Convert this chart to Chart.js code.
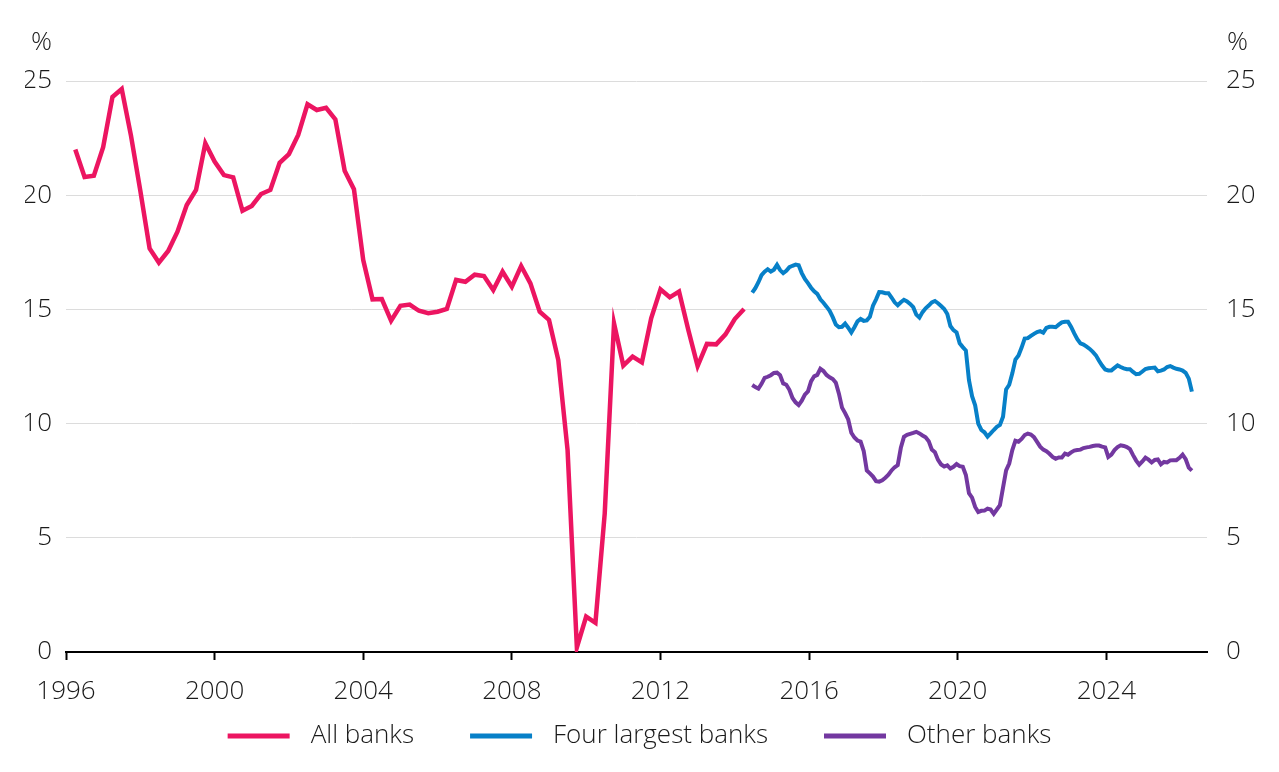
<!DOCTYPE html>
<html>
<head>
<meta charset="utf-8">
<script src="https://cdn.jsdelivr.net/npm/chart.js@4.4.1/dist/chart.umd.min.js"></script>
<style>
  html, body { margin: 0; padding: 0; background: #fff; }
  #wrap { width: 1279px; height: 772px; }
</style>
</head>
<body>
<div id="wrap"><canvas id="chart"></canvas></div>
<script>
const yTicks = [0, 5, 10, 15, 20, 25];
const xTicks = [1996, 2000, 2004, 2008, 2012, 2016, 2020, 2024];
const seriesNames = ['All banks', 'Four largest banks', 'Other banks'];
const seriesColors = ['#ec1561', '#0780c8', '#7338a0'];

// quarterly, first quarter ends March 1996
const allStart = 1996.25;
const allBanks = [
  22.0, 20.8, 20.85, 22.1, 24.3, 24.65, 22.6, 20.2, 17.67, 17.05,
  17.56, 18.4, 19.57, 20.23, 22.27, 21.47, 20.88, 20.78, 19.32, 19.53,
  20.05, 20.23, 21.42, 21.8, 22.64, 23.98, 23.73, 23.83, 23.32, 21.07,
  20.26, 17.16, 15.44, 15.45, 14.51, 15.16, 15.21, 14.94, 14.83, 14.9,
  15.02, 16.29, 16.21, 16.52, 16.46, 15.85, 16.65, 15.99, 16.9, 16.14,
  14.9, 14.54, 12.78, 8.84, 0.2, 1.55, 1.28, 6.07, 14.39, 12.54,
  12.93, 12.68, 14.61, 15.88, 15.53, 15.78, 14.1, 12.52, 13.49, 13.47,
  13.91, 14.58, 15.02
];

// monthly, from mid 2014
const monthStart = 2014.47;
const fourLargest = [
  15.73, 15.93, 16.19, 16.5, 16.65, 16.76, 16.66, 16.74, 16.95, 16.72,
  16.59, 16.69, 16.85, 16.91, 16.96, 16.93, 16.59, 16.33, 16.15, 15.95,
  15.79, 15.68, 15.44, 15.29, 15.12, 14.94, 14.66, 14.34, 14.22, 14.24,
  14.38, 14.2, 13.99, 14.22, 14.48, 14.58, 14.5, 14.52, 14.68, 15.16,
  15.44, 15.76, 15.75, 15.71, 15.71, 15.52, 15.31, 15.18, 15.31, 15.42,
  15.35, 15.24, 15.1, 14.77, 14.64, 14.88, 15.05, 15.17, 15.31, 15.37,
  15.27, 15.15, 15.02, 14.8, 14.27, 14.09, 13.99, 13.52, 13.35, 13.2,
  11.9, 11.2, 10.8, 10.0, 9.72, 9.62, 9.43, 9.57, 9.72, 9.86,
  9.94, 10.3, 11.5, 11.7, 12.2, 12.8, 12.98, 13.33, 13.72, 13.74,
  13.84, 13.93, 14.01, 14.05, 13.98, 14.19, 14.24, 14.24, 14.22, 14.33,
  14.43, 14.46, 14.46, 14.23, 13.95, 13.7, 13.51, 13.46, 13.37, 13.27,
  13.14, 12.99, 12.75, 12.54, 12.37, 12.33, 12.33, 12.44, 12.55, 12.48,
  12.42, 12.38, 12.38, 12.26, 12.16, 12.18, 12.28, 12.39, 12.42, 12.44,
  12.45, 12.29, 12.32, 12.37, 12.48, 12.52, 12.45, 12.4, 12.37, 12.32,
  12.22, 11.97, 11.4
];
const otherBanks = [
  11.69, 11.6, 11.53, 11.74, 12.0, 12.05, 12.12, 12.22, 12.23, 12.12,
  11.76, 11.7, 11.48, 11.12, 10.93, 10.81, 11.0, 11.27, 11.41, 11.85,
  12.07, 12.13, 12.4, 12.3, 12.13, 12.03, 11.95, 11.79, 11.31, 10.7,
  10.46, 10.18, 9.6, 9.39, 9.26, 9.21, 8.8, 7.95, 7.82, 7.68,
  7.48, 7.46, 7.52, 7.63, 7.76, 7.95, 8.09, 8.18, 8.94, 9.42,
  9.51, 9.55, 9.59, 9.64, 9.57, 9.48, 9.4, 9.23, 8.86, 8.75,
  8.41, 8.21, 8.12, 8.17, 8.03, 8.11, 8.23, 8.14, 8.11, 7.75,
  6.95, 6.76, 6.35, 6.13, 6.18, 6.19, 6.28, 6.24, 6.05, 6.24,
  6.43, 7.2, 7.95, 8.25, 8.84, 9.25, 9.21, 9.33, 9.5, 9.56,
  9.52, 9.41, 9.2, 8.99, 8.86, 8.79, 8.68, 8.54, 8.46, 8.52,
  8.52, 8.69, 8.64, 8.74, 8.82, 8.84, 8.86, 8.93, 8.96, 8.98,
  9.02, 9.04, 9.04, 8.99, 8.96, 8.54, 8.64, 8.84, 8.97, 9.05,
  9.02, 8.97, 8.88, 8.62, 8.38, 8.2, 8.34, 8.51, 8.42, 8.3,
  8.41, 8.43, 8.22, 8.32, 8.3, 8.39, 8.4, 8.4, 8.5, 8.64,
  8.44, 8.07, 7.94
];

const FONT = { family: "'Open Sans', 'Noto Sans', sans-serif", size: 26, weight: 300 };
const TEXT = '#1a1a1a';

function quarterly(start, values) {
  return values.map((v, i) => ({ x: start + i * 0.25, y: v }));
}
function monthly(start, values) {
  return values.map((v, i) => ({ x: start + i / 12, y: v }));
}

// "%" above both value axes
const percentLabels = {
  id: 'percentLabels',
  afterDraw(chart) {
    const ctx = chart.ctx;
    const top = chart.chartArea.top - 38;
    ctx.save();
    ctx.font = FONT.weight + ' ' + FONT.size + 'px ' + FONT.family;
    ctx.fillStyle = TEXT;
    ctx.textBaseline = 'middle';
    ctx.textAlign = 'right';
    ctx.fillText('%', chart.scales.y.right - 14, top);
    ctx.textAlign = 'left';
    ctx.fillText('%', chart.scales.y2.left + 20, top);
    ctx.restore();
  }
};

// legend with long line swatches, drawn under the axis
const lineLegend = {
  id: 'lineLegend',
  afterDraw(chart) {
    const ctx = chart.ctx;
    const lineLen = 62, gap = 21, spacing = 56;
    ctx.save();
    ctx.font = FONT.weight + ' ' + FONT.size + 'px ' + FONT.family;
    const widths = seriesNames.map(n => ctx.measureText(n).width);
    let total = spacing * (seriesNames.length - 1);
    widths.forEach(w => { total += lineLen + gap + w; });
    let x = (chart.width - total) / 2;
    const y = chart.height - 36;
    seriesNames.forEach((name, i) => {
      ctx.strokeStyle = seriesColors[i];
      ctx.lineWidth = 5;
      ctx.beginPath();
      ctx.moveTo(x, y);
      ctx.lineTo(x + lineLen, y);
      ctx.stroke();
      ctx.fillStyle = TEXT;
      ctx.textAlign = 'left';
      ctx.textBaseline = 'middle';
      ctx.fillText(name, x + lineLen + gap, y);
      x += lineLen + gap + widths[i] + spacing;
    });
    ctx.restore();
  }
};

// fixed axis sizes so the plot area sits where the original has it
function fixWidth(w) {
  return (scale) => { scale.width = w; scale.paddingTop = 0; scale.paddingBottom = 0; };
}

const ctx = document.getElementById('chart').getContext('2d');
const myChart = new Chart(ctx, {
  type: 'line',
  data: {
    datasets: [
      { label: seriesNames[0], data: quarterly(allStart, allBanks), borderColor: seriesColors[0], borderWidth: 4.5 },
      { label: seriesNames[1], data: monthly(monthStart, fourLargest), borderColor: seriesColors[1], borderWidth: 4 },
      { label: seriesNames[2], data: monthly(monthStart, otherBanks), borderColor: seriesColors[2], borderWidth: 4 }
    ]
  },
  options: {
    responsive: true,
    maintainAspectRatio: false,
    animation: false,
    events: [],
    elements: { point: { radius: 0 }, line: { tension: 0 } },
    layout: { padding: { top: 81, left: 25, right: 25, bottom: 68 } },
    plugins: {
      legend: { display: false },
      tooltip: { enabled: false }
    },
    scales: {
      x: {
        type: 'linear',
        min: 1996,
        max: 2026.71,
        afterBuildTicks: (scale) => { scale.ticks = xTicks.map(v => ({ value: v })); },
        afterFit: (scale) => { scale.height = 52; scale.paddingLeft = 0; scale.paddingRight = 0; },
        ticks: {
          autoSkip: false,
          maxRotation: 0,
          includeBounds: false,
          padding: 16,
          color: TEXT,
          font: FONT,
          callback: (v) => String(v)
        },
        grid: { display: true, drawOnChartArea: false, drawTicks: true, tickLength: 8, tickColor: '#000', tickWidth: 2 },
        border: { display: true, color: '#000', width: 2 }
      },
      y: {
        position: 'left',
        min: 0,
        max: 25,
        afterBuildTicks: (scale) => { scale.ticks = yTicks.map(v => ({ value: v })); },
        afterFit: fixWidth(41),
        ticks: { padding: 14, color: TEXT, font: FONT },
        grid: { color: '#dcdcdc', lineWidth: 1, drawTicks: false },
        border: { display: false }
      },
      y2: {
        position: 'right',
        min: 0,
        max: 25,
        afterBuildTicks: (scale) => { scale.ticks = yTicks.map(v => ({ value: v })); },
        afterFit: fixWidth(47),
        ticks: { padding: 19, color: TEXT, font: FONT },
        grid: { drawOnChartArea: false, drawTicks: false },
        border: { display: false }
      }
    }
  },
  plugins: [percentLabels, lineLegend]
});
</script>
</body>
</html>
